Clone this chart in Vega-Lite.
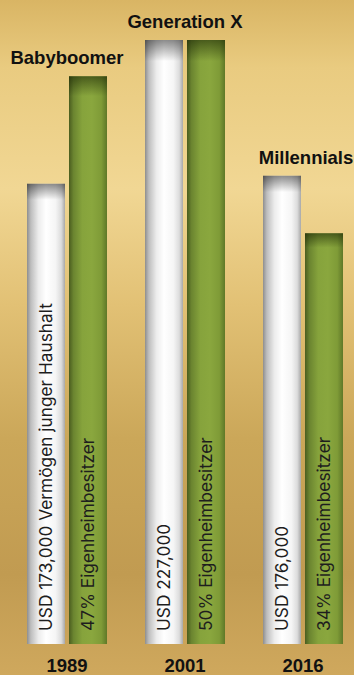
{
  "$schema": "https://vega.github.io/schema/vega-lite/v6.json",
  "width": 354,
  "height": 675,
  "padding": 0,
  "autosize": {"type": "none"},
  "background": "#d8b466",
  "config": {
    "view": {
      "stroke": null,
      "fill": {
        "gradient": "linear", "x1": 0, "y1": 0, "x2": 0, "y2": 1,
        "stops": [
          {"offset": 0, "color": "#d9b564"},
          {"offset": 0.1, "color": "#e9cb80"},
          {"offset": 0.28, "color": "#f1d794"},
          {"offset": 0.45, "color": "#e2c175"},
          {"offset": 0.65, "color": "#cba759"},
          {"offset": 0.85, "color": "#c19b51"},
          {"offset": 1, "color": "#cfa85d"}
        ]
      }
    }
  },
  "data": {
    "values": [
      {"year": "1989", "gen": "Babyboomer", "type": "usd", "value": 173000, "label": "USD 173,000 Vermögen junger Haushalt"},
      {"year": "1989", "gen": "Babyboomer", "type": "pct", "value": 47, "label": "47% Eigenheimbesitzer"},
      {"year": "2001", "gen": "Generation X", "type": "usd", "value": 227000, "label": "USD 227,000"},
      {"year": "2001", "gen": "Generation X", "type": "pct", "value": 50, "label": "50% Eigenheimbesitzer"},
      {"year": "2016", "gen": "Millennials", "type": "usd", "value": 176000, "label": "USD 176,000"},
      {"year": "2016", "gen": "Millennials", "type": "pct", "value": 34, "label": "34% Eigenheimbesitzer"}
    ]
  },
  "encoding": {
    "x": {
      "field": "year", "type": "nominal", "axis": null,
      "scale": {"domain": ["1989", "2001", "2016"], "range": [27, 343], "paddingInner": 0.322, "paddingOuter": 0}
    }
  },
  "layer": [
    {
      "transform": [{"filter": "datum.type === 'usd'"}],
      "mark": {
        "type": "bar",
        "color": {
          "gradient": "linear", "x1": 0, "y1": 0, "x2": 1, "y2": 0,
          "stops": [
            {"offset": 0, "color": "#8e8e8e"},
            {"offset": 0.1, "color": "#bdbdbd"},
            {"offset": 0.3, "color": "#ececec"},
            {"offset": 0.5, "color": "#ffffff"},
            {"offset": 0.75, "color": "#f5f5f5"},
            {"offset": 0.9, "color": "#dcdcdc"},
            {"offset": 1, "color": "#a8a8a8"}
          ]
        }
      },
      "encoding": {
        "xOffset": {"field": "type", "type": "nominal", "scale": {"domain": ["usd", "pct"], "paddingInner": 0.095, "paddingOuter": 0}},
        "y": {"field": "value", "type": "quantitative", "axis": null, "scale": {"domain": [0, 227000], "range": [644, 40], "nice": false}}
      }
    },
    {
      "transform": [{"filter": "datum.type === 'usd'"}],
      "mark": {
        "type": "bar",
        "color": {
          "gradient": "linear", "x1": 0, "y1": 0, "x2": 0, "y2": 1,
          "stops": [
            {"offset": 0, "color": "rgba(0,0,0,0.45)"},
            {"offset": 0.035, "color": "rgba(0,0,0,0)"},
            {"offset": 1, "color": "rgba(0,0,0,0)"}
          ]
        }
      },
      "encoding": {
        "xOffset": {"field": "type", "type": "nominal", "scale": {"domain": ["usd", "pct"], "paddingInner": 0.095, "paddingOuter": 0}},
        "y": {"field": "value", "type": "quantitative", "axis": null, "scale": {"domain": [0, 227000], "range": [644, 40], "nice": false}}
      }
    },
    {
      "transform": [{"filter": "datum.type === 'pct'"}],
      "mark": {
        "type": "bar",
        "color": {
          "gradient": "linear", "x1": 0, "y1": 0, "x2": 1, "y2": 0,
          "stops": [
            {"offset": 0, "color": "#4a5d1f"},
            {"offset": 0.12, "color": "#6b8530"},
            {"offset": 0.35, "color": "#86a33c"},
            {"offset": 0.6, "color": "#8aa73e"},
            {"offset": 0.85, "color": "#7f9b37"},
            {"offset": 1, "color": "#5f7828"}
          ]
        }
      },
      "encoding": {
        "xOffset": {"field": "type", "type": "nominal", "scale": {"domain": ["usd", "pct"], "paddingInner": 0.095, "paddingOuter": 0}},
        "y": {"field": "value", "type": "quantitative", "axis": null, "scale": {"domain": [0, 50], "range": [644, 40], "nice": false}}
      }
    },
    {
      "transform": [{"filter": "datum.type === 'pct'"}],
      "mark": {
        "type": "bar",
        "color": {
          "gradient": "linear", "x1": 0, "y1": 0, "x2": 0, "y2": 1,
          "stops": [
            {"offset": 0, "color": "rgba(20,30,0,0.55)"},
            {"offset": 0.035, "color": "rgba(20,30,0,0)"},
            {"offset": 1, "color": "rgba(20,30,0,0)"}
          ]
        }
      },
      "encoding": {
        "xOffset": {"field": "type", "type": "nominal", "scale": {"domain": ["usd", "pct"], "paddingInner": 0.095, "paddingOuter": 0}},
        "y": {"field": "value", "type": "quantitative", "axis": null, "scale": {"domain": [0, 50], "range": [644, 40], "nice": false}}
      }
    },
    {
      "mark": {"type": "text", "angle": 270, "align": "left", "baseline": "middle", "dx": 13, "dy": 1, "font": "Inter", "fontSize": 17.3, "color": "#1e1e1e"},
      "encoding": {
        "xOffset": {"field": "type", "type": "nominal", "scale": {"domain": ["usd", "pct"], "paddingInner": 0.095, "paddingOuter": 0}},
        "y": {"datum": 0, "type": "quantitative", "axis": null, "scale": {"domain": [0, 50], "range": [644, 40], "nice": false}},
        "text": {"field": "label"}
      }
    },
    {
      "transform": [{"filter": "datum.type === 'pct'"}],
      "mark": {"type": "text", "align": "center", "baseline": "alphabetic", "dy": 28, "font": "Liberation Sans", "fontWeight": "bold", "fontSize": 18.5, "color": "#111111"},
      "encoding": {
        "y": {"datum": 0, "type": "quantitative", "axis": null, "scale": {"domain": [0, 50], "range": [644, 40], "nice": false}},
        "text": {"field": "year"}
      }
    },
    {
      "transform": [{"filter": "datum.type === 'pct' && datum.year !== '2016'"}],
      "mark": {"type": "text", "align": "center", "baseline": "alphabetic", "dy": -12, "font": "Liberation Sans", "fontWeight": "bold", "fontSize": 18.5, "color": "#111111"},
      "encoding": {
        "y": {"field": "value", "type": "quantitative", "axis": null, "scale": {"domain": [0, 50], "range": [644, 40], "nice": false}},
        "text": {"field": "gen"}
      }
    },
    {
      "transform": [{"filter": "datum.type === 'usd' && datum.year === '2016'"}],
      "mark": {"type": "text", "align": "center", "baseline": "alphabetic", "dy": -12, "dx": 3, "font": "Liberation Sans", "fontWeight": "bold", "fontSize": 18.5, "color": "#111111"},
      "encoding": {
        "y": {"field": "value", "type": "quantitative", "axis": null, "scale": {"domain": [0, 227000], "range": [644, 40], "nice": false}},
        "text": {"field": "gen"}
      }
    }
  ],
  "resolve": {"scale": {"y": "independent"}}
}
